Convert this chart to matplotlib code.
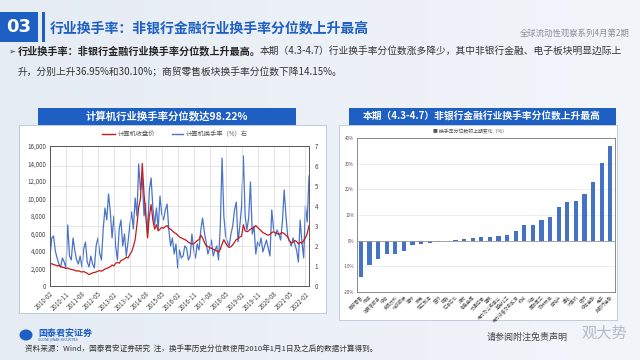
"""
Slide: industry turnover percentile (computer industry + change by industry)
"""

import numpy as np
import matplotlib.pyplot as plt
from matplotlib.patches import Rectangle, Ellipse
from matplotlib.colors import LinearSegmentedColormap

plt.rcParams['font.family'] = ['Noto Sans CJK SC', 'DejaVu Sans']
plt.rcParams['axes.unicode_minus'] = False

# ============================================================================
# DATA
# ============================================================================

# left chart: monthly points, month 0 = 2010-02
DATE_TICKS = ['2010-02', '2010-11', '2011-08', '2012-05', '2013-02', '2013-11',
              '2014-08', '2015-05', '2016-02', '2016-11', '2017-08', '2018-05',
              '2019-02', '2019-11', '2020-08', '2021-05', '2022-02']

# 计算机收盘价 (left axis)
close_price = [
    2500, 2550, 2450, 2400, 2300, 2350, 2200, 2150, 2100, 2000,
    2050, 1950, 1900, 1850, 1800, 1700, 1750, 1650, 1600, 1650,
    1550, 1450, 1300, 1400, 1500, 1550, 1600, 1700, 1750, 1700,
    1800, 1950, 2000, 2100, 2200, 2400, 2300, 2600, 2700, 2600,
    2900, 3000, 3100, 3300, 3200, 3600, 3900, 4500, 5300, 7000,
    9000, 10000, 14000, 10500, 8000, 5500, 8000, 9300, 7500, 6500,
    7000, 6300, 6500, 6700, 6600, 6800, 6900, 6600, 6500, 6300,
    6100, 6000, 5800, 5600, 5500, 5400, 5300, 5200, 5000, 4900,
    4800, 4850, 5000, 5200, 5300, 5800, 5500, 5000, 4600, 4500,
    4400, 4300, 4200, 4100, 4000, 3900, 4200, 4800, 5300, 4900,
    4600, 4400, 4500, 4700, 5000, 5300, 5400, 5600, 5700, 7000,
    6300, 6200, 6300, 6500, 6600, 6700, 6900, 6700, 6500, 6300,
    6100, 6000, 5900, 5800, 5900, 6100, 6200, 6100, 6000, 5900,
    6000, 6100, 6000, 5800, 5600, 5200, 4900, 5000, 5200, 5100,
    4800, 5000, 4900, 5200, 5500, 6000, 6900,
]

# 计算机换手率（%）, right axis
turnover = [
    1.5, 2.4, 2.5, 1.75, 1.4, 1.1, 0.95, 1.4, 1.2, 0.9,
    3.05, 1.5, 1.3, 2.4, 1.75, 1.3, 1.1, 1.5, 0.95, 1.85,
    2.2, 1.2, 0.95, 1.5, 1.1, 0.9, 2.0, 2.4, 1.65, 1.3,
    2.85, 3.9, 3.3, 4.6, 3.7, 2.4, 3.5, 2.0, 1.3, 2.85,
    3.3, 2.0, 2.6, 1.5, 2.2, 3.05, 3.7, 2.85, 4.4, 3.5,
    6.1, 4.8, 5.45, 3.5, 4.15, 2.6, 4.8, 5.4, 3.9, 3.05,
    3.9, 2.85, 4.5, 3.6, 3.3, 3.8, 4.1, 2.8, 2.0, 2.4,
    1.6, 2.1, 0.9, 1.8, 1.4, 1.5, 2.0, 1.9, 1.3, 1.5,
    2.6, 1.8, 1.4, 2.1, 1.8, 2.8, 3.4, 2.7, 2.2, 1.6,
    1.9, 2.3, 1.5, 1.8, 2.0, 1.3, 3.0, 6.4, 3.5, 2.5,
    2.2, 2.0, 2.6, 3.0, 3.8, 4.2, 2.2, 3.0, 4.0, 6.5,
    3.5, 2.8, 3.4, 5.2, 2.6, 3.0, 1.6, 2.2, 2.0, 2.4,
    1.7, 2.0, 2.3, 1.9, 1.5, 3.8, 2.9, 2.5, 2.8, 2.6,
    2.3, 3.2, 4.8, 3.5, 2.5, 2.2, 2.0, 2.4, 2.1, 1.8,
    1.2, 3.3, 2.2, 1.4, 4.0, 3.2, 5.5,
]

# right chart: change of turnover percentile vs last period (%)
industries = ['商贸零售', '传媒', '消费者服务', '综合', '食品饮料', '纺织服装',
              '建材', '家电', '轻工制造', '医药', '钢铁', '石油石化',
              '煤炭', '有色金属', '交通运输', '建筑', '电力及公用事业', '基础化工',
              '电力设备及新能源', '机械', '汽车', '国防军工', '农林牧渔', '房地产',
              '通信', '计算机', '银行', '综合金融', '电子', '非银行金融']
pct_change = [-14.15, -9.6, -7.0, -5.2, -5.1, -3.9, -1.8, -1.2, -0.8, -0.4,
              -0.1, 0.3, 0.5, 1.0, 1.4, 1.5, 1.9, 2.3, 3.9, 6.1,
              6.1, 7.9, 9.1, 13.2, 14.9, 15.5, 18.1, 22.7, 30.10, 36.95]

# ============================================================================
# STYLE
# ============================================================================

BLUE_DARK = '#1d5fc2'
BAR_BLUE = '#4472c4'
LINE_BLUE = '#4a74c9'
LINE_RED = '#c41a1a'
TEXT_DARK = '#333333'
W, H = 640, 360


def px_rect(x0, y0, x1, y1):
    return [x0 / W, 1 - y1 / H, (x1 - x0) / W, (y1 - y0) / H]


def fig_box(x0, y0, x1, y1, **kw):
    # rectangle in pixel coords (top-left origin), drawn under the axes
    fig.patches.append(Rectangle((x0 / W, 1 - y1 / H), (x1 - x0) / W, (y1 - y0) / H,
                                 transform=fig.transFigure, zorder=-5, **kw))


fig = plt.figure(figsize=(6.4, 3.6), dpi=100)

# background gradient
bg = fig.add_axes([0, 0, 1, 1], zorder=-10)
grad = np.linspace(0, 1, 256)
bg.imshow(np.vstack([grad, grad]), aspect='auto', extent=[0, 1, 0, 1],
          cmap=LinearSegmentedColormap.from_list('bg', ['#e6ecf4', '#f2f5fa']))
bg.set_xlim(0, 1)
bg.set_ylim(0, 1)
bg.axis('off')

# ============================================================================
# HEADER
# ============================================================================

fig_box(0, 12, 38, 42, facecolor=BLUE_DARK, edgecolor='none')
fig.text(19 / W, 1 - 27 / H, '03', color='white', fontsize=13, fontweight='bold',
         ha='center', va='center', family='DejaVu Sans')
fig_box(42, 12, 45, 42, facecolor=BLUE_DARK, edgecolor='none')
fig.text(50 / W, 1 - 28 / H, '行业换手率：非银行金融行业换手率分位数上升最高',
         color=BLUE_DARK, fontsize=10, fontweight='bold', va='center')
fig.text(630 / W, 1 - 33 / H, '全球流动性观察系列4月第2期', color='#8a8f99',
         fontsize=6, ha='right', va='center')

fig.text(8 / W, 1 - 51 / H, '➢', color=TEXT_DARK, fontsize=6, va='center')
fig.text(18 / W, 1 - 51 / H, '行业换手率：非银行金融行业换手率分位数上升最高。',
         color='#222222', fontsize=7.3, fontweight='bold', va='center')
fig.text(260 / W, 1 - 51 / H,
         '本期（4.3-4.7）行业换手率分位数涨多降少，其中非银行金融、电子板块明显边际上',
         color=TEXT_DARK, fontsize=7, va='center')
fig.text(18 / W, 1 - 72 / H, '升，分别上升36.95%和30.10%；商贸零售板块换手率分位数下降14.15%。',
         color=TEXT_DARK, fontsize=7, va='center')

# ============================================================================
# LEFT PANEL
# ============================================================================

fig_box(19, 125, 326, 313, facecolor='white', edgecolor='#b8c4d6', linewidth=0.6)
fig_box(38, 108, 296, 125, facecolor=BLUE_DARK, edgecolor='none')
fig.text(167 / W, 1 - 116.5 / H, '计算机行业换手率分位数达98.22%', color='white',
         fontsize=7.5, fontweight='bold', ha='center', va='center')

months = np.arange(len(close_price))
ax = fig.add_axes(px_rect(50, 146, 309, 286))
ax.plot(months, close_price, color=LINE_RED, linewidth=0.9, zorder=3)
ax.set_ylim(0, 16000)
ax.set_yticks(np.arange(0, 16001, 2000))
ax.set_yticklabels([f'{v:,}' for v in range(0, 16001, 2000)])
ax.set_xlim(0, 146)
ax.set_xticks(np.arange(0, 9 * len(DATE_TICKS), 9))
ax.set_xticklabels(DATE_TICKS, rotation=45, ha='right', rotation_mode='anchor')
ax.grid(True, color='#dcdcdc', linewidth=0.5)
ax.set_axisbelow(True)
ax.tick_params(length=0, labelsize=4.5, colors='#444444', pad=3)
for s in ax.spines.values():
    s.set_color('#555555')
    s.set_linewidth(0.7)

ax2 = ax.twinx()
ax2.plot(months, turnover, color=LINE_BLUE, linewidth=0.9, zorder=2)
ax2.set_ylim(0, 7)
ax2.set_yticks(range(0, 8))
ax2.tick_params(length=0, labelsize=4.5, colors='#444444', pad=4)
for s in ax2.spines.values():
    s.set_visible(False)
# red line on top of blue line, grid below both
ax2.set_zorder(1)
ax.set_zorder(2)
ax.patch.set_visible(False)
ax.grid(False)
ax2.grid(True, color='#dcdcdc', linewidth=0.5)
ax2.set_axisbelow(True)
ax2.xaxis.grid(False)
ax.xaxis.grid(True, color='#dcdcdc', linewidth=0.5)

# legend
fig.lines.append(plt.Line2D([102 / W, 115 / W], [1 - 134 / H] * 2, transform=fig.transFigure,
                            color=LINE_RED, linewidth=1))
fig.text(118 / W, 1 - 134 / H, '计算机收盘价', fontsize=4.5, color='#555555', va='center')
fig.lines.append(plt.Line2D([172 / W, 183 / W], [1 - 134 / H] * 2, transform=fig.transFigure,
                            color=LINE_BLUE, linewidth=1))
fig.text(186 / W, 1 - 134 / H, '计算机换手率（%）右', fontsize=4.5, color='#555555', va='center')

# ============================================================================
# RIGHT PANEL
# ============================================================================

fig_box(339, 125, 617, 320, facecolor='white', edgecolor='#b8c4d6', linewidth=0.6)
fig_box(349, 108, 616, 125, facecolor=BLUE_DARK, edgecolor='none')
fig.text(482 / W, 1 - 116.5 / H, '本期（4.3-4.7）非银行金融行业换手率分位数上升最高', color='white',
         fontsize=7, fontweight='bold', ha='center', va='center')

bx = fig.add_axes(px_rect(357, 138, 615, 292))
pos = np.arange(len(pct_change))
bx.bar(pos, pct_change, width=0.5, color=BAR_BLUE, zorder=3)
bx.axhline(0, color='#999999', linewidth=0.6, zorder=4)
bx.set_ylim(-20, 40)
bx.set_yticks(range(-20, 41, 10))
bx.set_yticklabels([f'{v}%' for v in range(-20, 41, 10)])
bx.set_xlim(-0.45, len(pct_change) - 0.45)
bx.set_xticks(pos)
bx.set_xticklabels(industries, rotation=45, ha='right', rotation_mode='anchor')
bx.grid(True, axis='y', color='#e6e6e6', linewidth=0.5)
bx.set_axisbelow(True)
bx.tick_params(length=0, labelsize=3.2, colors='#555555', pad=2)
for s in bx.spines.values():
    s.set_color('#777777')
    s.set_linewidth(0.6)
fig.text(470 / W, 1 - 132 / H, '■ 换手率分位数较上期变化（%）', fontsize=3.5,
         color='#555555', ha='center', va='center')

# ============================================================================
# FOOTER
# ============================================================================

fig.patches.append(Ellipse((26 / W, 1 - 335 / H), 13 / W, 11 / H, transform=fig.transFigure,
                           facecolor=BLUE_DARK, edgecolor='none'))
fig.text(38 / W, 1 - 333 / H, '国泰君安证券', fontsize=6.5, fontweight='bold',
         color=BLUE_DARK, va='center')
fig.text(38 / W, 1 - 340 / H, 'GUOTAI JUNAN SECURITIES', fontsize=2.2,
         color=BLUE_DARK, va='center', family='DejaVu Sans')
fig.text(25 / W, 1 - 349 / H,
         '资料来源：Wind，国泰君安证券研究  注，换手率历史分位数使用2010年1月1日及之后的数据计算得到。',
         fontsize=5.5, color=TEXT_DARK, va='center')
fig.text(487 / W, 1 - 337 / H, '请参阅附注免责声明', fontsize=6.5, color='#444444', va='center')
fig.text(604 / W, 1 - 333 / H, '观大势', fontsize=11, color='#9aa4b0', alpha=0.7,
         va='center', ha='center')

fig.savefig('out.png', dpi=100)
